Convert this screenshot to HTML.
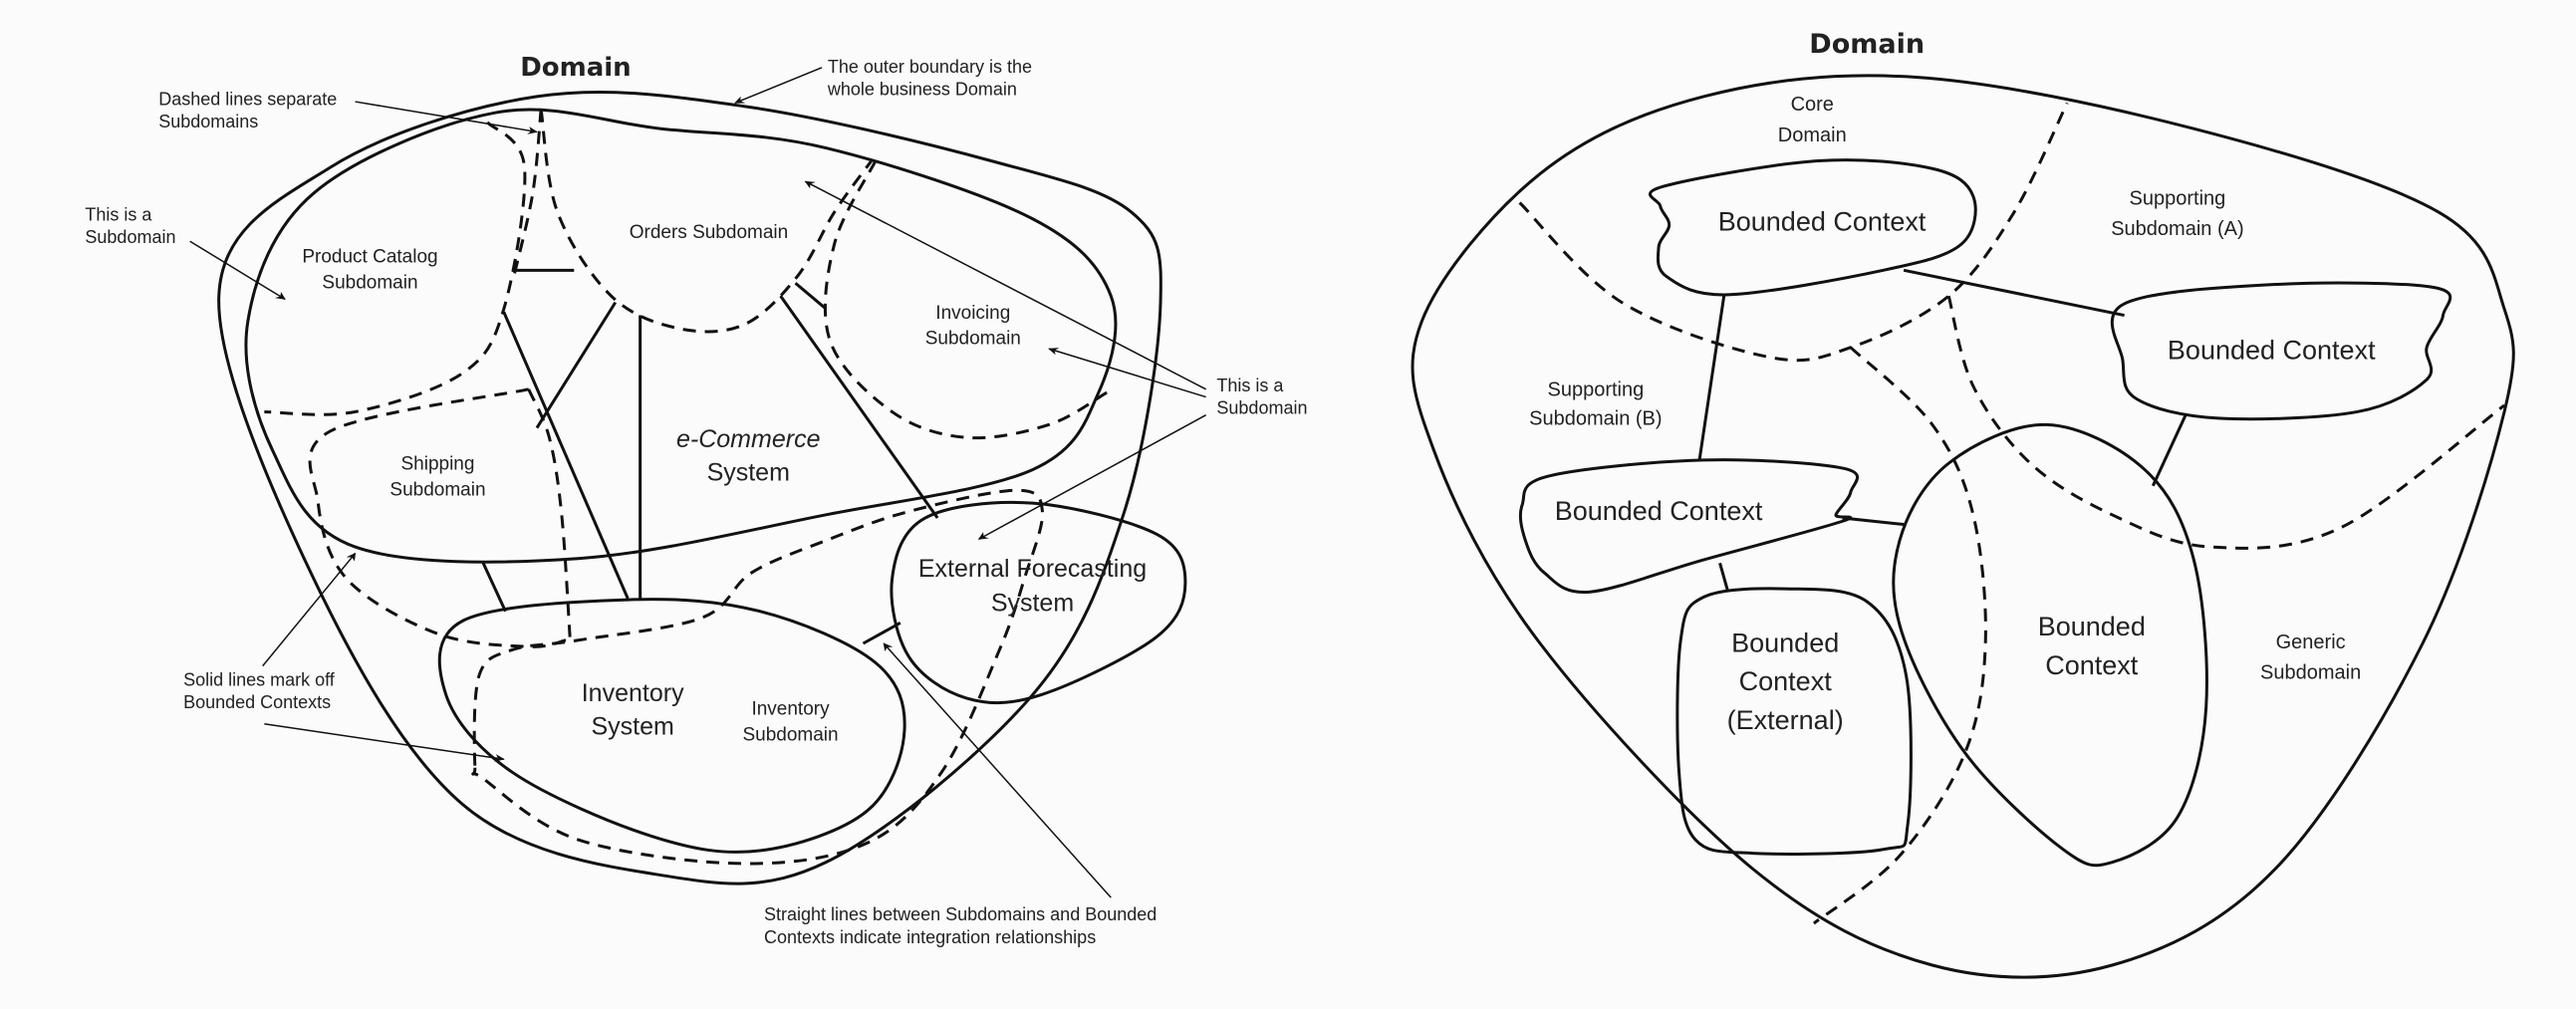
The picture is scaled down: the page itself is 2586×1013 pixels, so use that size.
<!DOCTYPE html>
<html><head><meta charset="utf-8"><style>
html,body{margin:0;padding:0;background:#fbfbfb;overflow:hidden}
svg{display:block}
text{font-family:"Liberation Sans",sans-serif;fill:#222;}
.h{font-family:"DejaVu Sans","Liberation Sans",sans-serif;}
path,line{vector-effect:non-scaling-stroke}
</style></head><body>
<svg id="s" width="2586" height="1013" viewBox="0 0 2586 1013" xmlns="http://www.w3.org/2000/svg">
<defs><marker id="ar" viewBox="0 0 10 10" refX="9" refY="5" markerWidth="16" markerHeight="12" markerUnits="userSpaceOnUse" orient="auto"><path d="M0,0 L10,5 L0,10 L3,5 Z" fill="#111"/></marker></defs>
<g id="L" transform="scale(0.8292,0.646)" fill="none" stroke="#111" stroke-width="3">
<line x1="620" y1="420" x2="695" y2="420"/>
<line x1="963" y1="440" x2="1000" y2="480"/>
<line x1="610" y1="485" x2="760" y2="930"/>
<line x1="745" y1="470" x2="650" y2="665"/>
<line x1="775" y1="490" x2="775" y2="930"/>
<line x1="945" y1="460" x2="1135" y2="805"/>
<line x1="585" y1="875" x2="612" y2="950"/>
<line x1="1045" y1="1000" x2="1090" y2="968"/>
<g stroke-width="1.5">
<line x1="995" y1="105" x2="890" y2="160" marker-end="url(#ar)"/>
<line x1="430" y1="158" x2="650" y2="205" marker-end="url(#ar)"/>
<line x1="230" y1="375" x2="345" y2="465" marker-end="url(#ar)"/>
<line x1="1460" y1="605" x2="975" y2="282" marker-end="url(#ar)"/>
<line x1="1460" y1="617" x2="1270" y2="542" marker-end="url(#ar)"/>
<line x1="1460" y1="645" x2="1185" y2="838" marker-end="url(#ar)"/>
<line x1="318" y1="1035" x2="430" y2="860" marker-end="url(#ar)"/>
<line x1="320" y1="1125" x2="610" y2="1180" marker-end="url(#ar)"/>
<line x1="1345" y1="1395" x2="1070" y2="1000" marker-end="url(#ar)"/>
</g>
</g>
<g id="R" transform="translate(1300,0) scale(0.8203,0.646)" fill="none" stroke="#111" stroke-width="3">
<line x1="745" y1="420" x2="1015" y2="490"/>
<line x1="525" y1="460" x2="495" y2="715"/>
<line x1="1090" y1="645" x2="1050" y2="755"/>
<line x1="670" y1="805" x2="745" y2="815"/>
<line x1="520" y1="875" x2="530" y2="920"/>
</g>
<g class="tl" text-anchor="middle">
<text x="697" y="118" font-size="26" font-weight="bold" class="h">Domain</text>
<g text-anchor="start" font-size="18"><text x="1002" y="113">The outer boundary is the</text><text x="1002" y="148">whole business Domain</text>
<text x="192" y="163">Dashed lines separate</text><text x="192" y="198">Subdomains</text>
<text x="103" y="343">This is a</text><text x="103" y="378">Subdomain</text>
<text x="1473" y="608">This is a</text><text x="1473" y="643">Subdomain</text>
<text x="222" y="1066">Solid lines mark off</text><text x="222" y="1101">Bounded Contexts</text>
<text x="925" y="1430">Straight lines between Subdomains and Bounded</text><text x="925" y="1466">Contexts indicate integration relationships</text></g>
<g font-size="19" class="h"><text x="448" y="408">Product Catalog</text><text x="448" y="448">Subdomain</text>
<text x="858" y="370">Orders Subdomain</text>
<text x="1178" y="495">Invoicing</text><text x="1178" y="535">Subdomain</text>
<text x="530" y="730">Shipping</text><text x="530" y="770">Subdomain</text>
<text x="957" y="1111">Inventory</text><text x="957" y="1151">Subdomain</text></g>
<g font-size="25" class="h"><text x="906" y="695" font-style="italic">e-Commerce</text><text x="906" y="747">System</text>
<text x="1250" y="896">External Forecasting</text><text x="1250" y="950">System</text>
<text x="766" y="1090">Inventory</text><text x="766" y="1142">System</text></g>
</g>
<g class="tr" text-anchor="middle">
<text x="700" y="82" font-size="27" font-weight="bold" class="h">Domain</text>
<g font-size="20" class="h"><text x="633" y="172">Core</text><text x="633" y="220">Domain</text>
<text x="1080" y="318">Supporting</text><text x="1080" y="365">Subdomain (A)</text>
<text x="368" y="615">Supporting</text><text x="368" y="660">Subdomain (B)</text>
<text x="1243" y="1008">Generic</text><text x="1243" y="1055">Subdomain</text></g>
<g font-size="27" class="h"><text x="645" y="358">Bounded Context</text><text x="1195" y="558">Bounded Context</text><text x="445" y="808">Bounded Context</text>
<text x="600" y="1013">Bounded</text><text x="600" y="1073">Context</text><text x="600" y="1133">(External)</text>
<text x="975" y="988">Bounded</text><text x="975" y="1048">Context</text></g>
</g>
</svg>
<script>
function mapT(cls,ox,sx,sy){var ts=document.querySelectorAll("."+cls+" text");for(var i=0;i<ts.length;i++){var t=ts[i];t.setAttribute("x",ox+parseFloat(t.getAttribute("x"))*sx);t.setAttribute("y",parseFloat(t.getAttribute("y"))*sy);}}
mapT("tl",0,0.8292,0.646);mapT("tr",1300,0.8203,0.646);
function sm(p,closed){var n=p.length,d="M"+p[0][0]+","+p[0][1];var m=closed?n:n-1;
for(var i=0;i<m;i++){var p0=p[(i-1+n)%n],p1=p[i],p2=p[(i+1)%n],p3=p[(i+2)%n];
if(!closed){if(i==0)p0=p1;if(i+2>=n)p3=p2;}
var c1=[p1[0]+(p2[0]-p0[0])/6,p1[1]+(p2[1]-p0[1])/6],c2=[p2[0]-(p3[0]-p1[0])/6,p2[1]-(p3[1]-p1[1])/6];
d+=" C"+c1+" "+c2+" "+p2;}return d+(closed?"Z":"");}
function add(g,p,closed,dash){var e=document.createElementNS("http://www.w3.org/2000/svg","path");e.setAttribute("d",sm(p,closed));if(dash)e.setAttribute("stroke-dasharray","13 9");document.getElementById(g).appendChild(e);}
add("L",[[265,460],[400,260],[650,150],[900,165],[1200,250],[1370,330],[1405,470],[1360,800],[1250,1080],[1000,1340],[800,1360],[560,1250],[380,900]],true);
add("L",[[300,500],[380,300],[600,175],[800,200],[1000,230],[1250,340],[1345,460],[1330,610],[1250,730],[1000,800],[700,868],[430,850],[330,700]],true);
add("L",[[590,190],[635,260],[610,480],[560,580],[430,640],[320,640]],false,1);
add("L",[[655,170],[645,300],[622,430]],false,1);
add("L",[[655,170],[675,330],[740,460],[820,510],[900,505],[965,430],[1010,330],[1055,250]],false,1);
add("L",[[1060,250],[1010,380],[1005,530],[1080,640],[1170,680],[1270,660],[1340,610]],false,1);
add("L",[[640,605],[400,670],[385,780],[420,900],[530,985],[640,1005],[685,995]],false,1);
add("L",[[640,605],[665,680],[680,800],[690,990]],false,1);
add("L",[[575,1190],[580,1050],[620,1010],[700,995],[850,960],[910,890],[1000,840],[1100,795],[1230,762],[1262,795],[1240,900],[1210,1010],[1140,1200],[1050,1310],[900,1342],[700,1305],[585,1210]],true,1);
add("L",[[560,965],[760,932],[920,950],[1060,1030],[1095,1135],[1050,1260],[920,1322],[790,1300],[620,1200],[540,1080]],true);
add("L",[[1080,900],[1120,805],[1250,782],[1400,830],[1435,905],[1400,990],[1260,1080],[1170,1085],[1100,1020]],true);
add("R",[[155,500],[300,270],[500,150],[760,120],[1100,200],[1400,330],[1480,480],[1480,640],[1380,1000],[1200,1350],[1000,1500],[780,1500],[560,1350],[300,1000],[170,700]],true);
add("R",[[275,315],[400,470],[580,555],[680,540],[800,460],[880,330],[945,160]],false,1);
add("R",[[680,540],[780,660],[830,800],[845,1000],[820,1170],[740,1330],[635,1435]],false,1);
add("R",[[800,460],[830,600],[900,720],[1000,800],[1120,850],[1280,820],[1480,630]],false,1);
add("R",[[450,290],[640,250],[780,262],[830,305],[815,380],[720,420],[530,458],[455,430],[445,385],[458,350],[447,320]],true);
add("R",[[1015,472],[1200,442],[1395,447],[1405,490],[1385,540],[1385,590],[1300,640],[1130,650],[1030,620],[1013,560]],true);
add("R",[[278,785],[310,740],[500,715],[672,728],[680,765],[662,800],[670,810],[500,870],[360,920],[305,890],[282,840]],true);
add("R",[[472,995],[500,928],[600,915],[700,935],[748,1050],[750,1280],[720,1320],[560,1326],[490,1305],[470,1200]],true);
add("R",[[740,840],[800,720],[920,660],[1040,730],[1100,870],[1115,1100],[1080,1270],[1000,1340],[940,1320],[820,1170],[742,980]],true);
</script>
</body></html>
